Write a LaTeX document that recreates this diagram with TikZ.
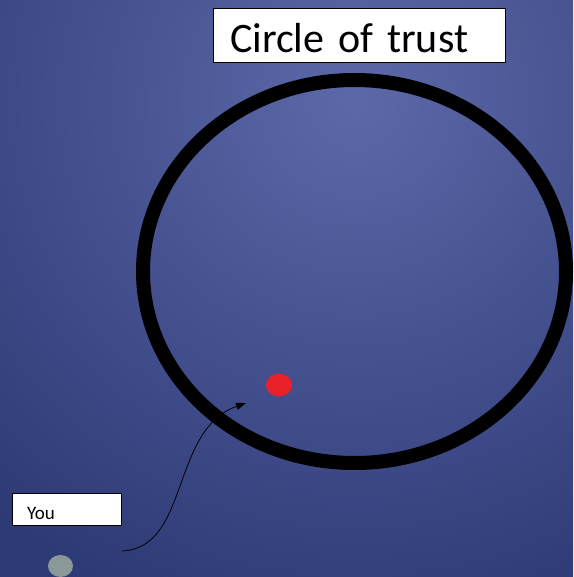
\documentclass[tikz,border=0pt]{standalone}
\usepackage{fontspec}
\setmainfont{Carlito}[WordSpace=0.85]
\usetikzlibrary{arrows.meta}
\definecolor{bglight}{HTML}{5C68A8}
\definecolor{bgdark}{HTML}{2D3974}
\definecolor{dotred}{HTML}{E8202A}
\definecolor{dotgray}{HTML}{8A9898}
\pgfdeclareradialshading{bgshade}{\pgfpointorigin}{color(0bp)=(bglight); color(21bp)=(bgdark); color(50bp)=(bgdark)}
\tikzset{
  labelbox/.style={draw=black, line width=0.8pt, fill=white, align=left, inner ysep=0pt},
  dot/.style={ellipse, draw=none, inner sep=0pt},
  ring/.style={draw=black, line width=14pt},
  pointer/.style={draw=black, line width=0.8pt, -{Triangle[length=10pt,width=7pt]}}
}
\usetikzlibrary{shapes.geometric}
\begin{document}
\begin{tikzpicture}[x=1pt,y=-1pt]
\useasboundingbox (0,0) rectangle (573,577);
\begin{scope}
\clip (0,0) rectangle (573,577);
\shade[shading=bgshade] (355,100) circle (660pt);
\end{scope}
% circle of trust
\draw[ring] (354.5,271.5) ellipse [x radius=211.5pt, y radius=191.5pt];
% title
\node[labelbox, minimum width=292pt, minimum height=54pt, text width=258pt, inner xsep=17pt,
      text height=36pt, text depth=0pt,
      font=\fontsize{42}{42}\selectfont] (title) at (359,35) {Circle of trust};
% red dot
\node[dot, fill=dotred, minimum width=26pt, minimum height=23pt] (reddot) at (279,385) {};
% You box
\node[labelbox, minimum width=109pt, minimum height=32pt, text width=79pt, inner xsep=15pt,
      text height=21pt, text depth=0pt,
      font=\fontsize{19}{19}\selectfont] (you) at (66.5,509) {You};
% gray dot
\node[dot, fill=dotgray, minimum width=25pt, minimum height=22pt] (graydot) at (60.5,566) {};
% arrow
\coordinate (start) at (122,551);
\coordinate (tip) at (246,403);
\draw[pointer] (start) .. controls (190,548) and (170,430) .. (tip);
\end{tikzpicture}
\end{document}
